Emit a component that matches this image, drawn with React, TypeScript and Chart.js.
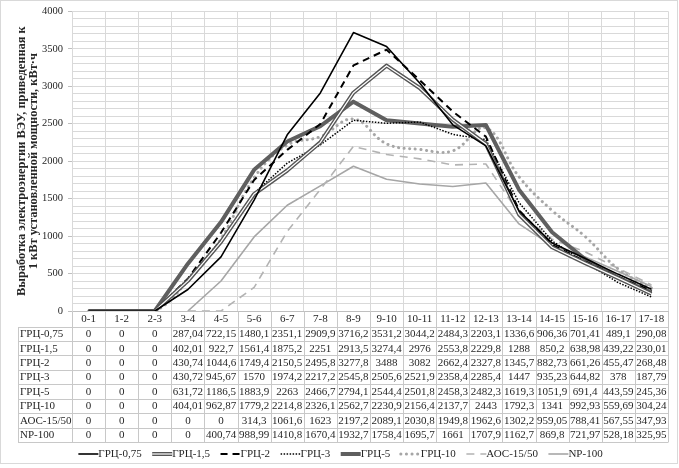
import React, { useEffect, useRef } from "react";
import { Chart, registerables } from "chart.js";

Chart.register(...registerables);

const categories = ["0-1", "1-2", "2-3", "3-4", "4-5", "5-6", "6-7", "7-8", "8-9", "9-10", "10-11", "11-12", "12-13", "13-14", "14-15", "15-16", "16-17", "17-18"];

const grc075 = [0, 0, 0, 287.04, 722.15, 1480.1, 2351.1, 2909.9, 3716.2, 3531.2, 3044.2, 2484.3, 2203.1, 1336.6, 906.36, 701.41, 489.1, 290.08];
const grc15 = [0, 0, 0, 402.01, 922.7, 1561.4, 1875.2, 2251, 2913.5, 3274.4, 2976, 2553.8, 2229.8, 1288, 850.2, 638.98, 439.22, 230.01];
const grc2 = [0, 0, 0, 430.74, 1044.6, 1749.4, 2150.5, 2495.8, 3277.8, 3488, 3082, 2662.4, 2327.8, 1345.7, 882.73, 661.26, 455.47, 268.48];
const grc3 = [0, 0, 0, 430.72, 945.67, 1570, 1974.2, 2217.2, 2545.8, 2505.6, 2521.9, 2358.4, 2285.4, 1447, 935.23, 644.82, 378, 187.79];
const grc5 = [0, 0, 0, 631.72, 1186.5, 1883.9, 2263, 2466.7, 2794.1, 2544.4, 2501.8, 2458.3, 2482.3, 1619.3, 1051.9, 691.4, 443.59, 245.36];
const grc10 = [0, 0, 0, 404.01, 962.87, 1779.2, 2214.8, 2326.1, 2562.7, 2230.9, 2156.4, 2137.7, 2443, 1792.3, 1341, 992.93, 559.69, 304.24];
const aoc1550 = [0, 0, 0, 0, 0, 314.3, 1061.6, 1623, 2197.2, 2089.1, 2030.8, 1949.8, 1962.6, 1302.2, 959.05, 788.41, 567.55, 347.93];
const np100 = [0, 0, 0, 0, 400.74, 988.99, 1410.8, 1670.4, 1932.7, 1758.4, 1695.7, 1661, 1707.9, 1162.7, 869.8, 721.97, 528.18, 325.95];

const seriesNames = ["ГРЦ-0,75", "ГРЦ-1,5", "ГРЦ-2", "ГРЦ-3", "ГРЦ-5", "ГРЦ-10", "АОС-15/50", "NP-100"];
const seriesValues = [grc075, grc15, grc2, grc3, grc5, grc10, aoc1550, np100];
// first category index from which each line is drawn
const plotStart = [0, 0, 0, 0, 0, 0, 3, 3];

const yTitle = ["Выработка электроэнергии ВЭУ, приведенная к", "1 кВт установленной мощности, кВт·ч"];

const FONT = "'Liberation Serif', 'Times New Roman', serif";

type Style = { color: string; width: number; dash: number[]; cap: CanvasLineCap; tension: number; inner?: string };
const styles: Style[] = [
  { color: "#000000", width: 1.6, dash: [], cap: "butt", tension: 0 },
  { color: "#555555", width: 4, dash: [], cap: "butt", tension: 0, inner: "#ffffff" },
  { color: "#000000", width: 2, dash: [7, 5], cap: "butt", tension: 0 },
  { color: "#000000", width: 1.5, dash: [1.5, 1.5], cap: "butt", tension: 0 },
  { color: "#5f5f5f", width: 4, dash: [], cap: "butt", tension: 0 },
  { color: "#a6a6a6", width: 3, dash: [0.1, 5.5], cap: "round", tension: 0.4 },
  { color: "#b3b3b3", width: 1.6, dash: [8, 6], cap: "butt", tension: 0 },
  { color: "#a6a6a6", width: 1.6, dash: [], cap: "butt", tension: 0 },
];

const fmt = (v: number) => String(v).replace(".", ",");

const tablePlugin = {
  id: "tableAndLegend",
  afterDatasetDraw(chart: any, args: any) {
    const st = styles[args.index];
    if (!st || !st.inner) return;
    const pts = args.meta.data;
    const ctx = chart.ctx;
    ctx.save();
    ctx.strokeStyle = st.inner;
    ctx.lineWidth = 1.2;
    ctx.setLineDash([]);
    ctx.beginPath();
    let started = false;
    pts.forEach((p: any) => {
      if (p.skip) return;
      if (!started) { ctx.moveTo(p.x, p.y); started = true; } else ctx.lineTo(p.x, p.y);
    });
    ctx.stroke();
    ctx.restore();
  },
  afterDraw(chart: any) {
    const ctx: CanvasRenderingContext2D = chart.ctx;
    const xs = chart.scales.x;
    const n = categories.length;
    const left = xs.left;
    const right = xs.right;
    const w = (right - left) / n;
    const axisY = chart.chartArea.bottom;
    const headerBottom = 326.5;
    const rowH = 14.45;
    const tableLeft = 18;
    const tableBottom = headerBottom + rowH * seriesNames.length;
    const px = (v: number) => Math.round(v) + 0.5;

    ctx.save();
    ctx.strokeStyle = "#c8c8c8";
    ctx.lineWidth = 1;
    ctx.setLineDash([]);
    ctx.beginPath();
    for (let r = 0; r <= seriesNames.length; r++) {
      const y = px(headerBottom + r * rowH);
      ctx.moveTo(tableLeft, y);
      ctx.lineTo(right, y);
    }
    ctx.moveTo(px(tableLeft), px(headerBottom));
    ctx.lineTo(px(tableLeft), px(tableBottom));
    for (let i = 0; i <= n; i++) {
      const x = px(left + i * w);
      ctx.moveTo(x, px(axisY));
      ctx.lineTo(x, px(tableBottom));
    }
    ctx.stroke();

    ctx.fillStyle = "#262626";
    ctx.font = `11px ${FONT}`;
    ctx.textBaseline = "middle";
    seriesNames.forEach((name, r) => {
      const cy = headerBottom + r * rowH + rowH / 2 + 0.5;
      ctx.textAlign = "left";
      ctx.fillText(name, tableLeft + 2, cy);
      ctx.textAlign = "center";
      seriesValues[r].forEach((v, i) => {
        ctx.fillText(fmt(v), xs.getPixelForValue(i), cy);
      });
    });

    // legend
    const sampleW = 20;
    const gap = 0;
    const spacing = 10.5;
    const widths = seriesNames.map((s) => ctx.measureText(s).width);
    const total = widths.reduce((a, b) => a + b + sampleW + gap, 0) + spacing * (seriesNames.length - 1);
    let lx = 340.5 - total / 2;
    const ly = 454;
    seriesNames.forEach((name, i) => {
      const st = styles[i];
      ctx.beginPath();
      ctx.strokeStyle = st.color;
      ctx.lineWidth = st.width;
      ctx.lineCap = st.cap;
      ctx.setLineDash(st.dash);
      ctx.moveTo(lx, ly);
      ctx.lineTo(lx + sampleW, ly);
      ctx.stroke();
      if (st.inner) {
        ctx.beginPath();
        ctx.strokeStyle = st.inner;
        ctx.lineWidth = 1.2;
        ctx.setLineDash([]);
        ctx.moveTo(lx, ly);
        ctx.lineTo(lx + sampleW, ly);
        ctx.stroke();
      }
      ctx.setLineDash([]);
      ctx.lineCap = "butt";
      ctx.textAlign = "left";
      ctx.fillStyle = "#262626";
      ctx.fillText(name, lx + sampleW + gap, ly + 0.5);
      lx += sampleW + gap + widths[i] + spacing;
    });

    // outer frame
    ctx.strokeStyle = "#d9d9d9";
    ctx.lineWidth = 1;
    ctx.strokeRect(0.5, 0.5, 677, 463);
    ctx.restore();
  },
};

export default function App() {
  const ref = useRef<HTMLCanvasElement | null>(null);
  useEffect(() => {
    document.body.style.margin = "0";
    const canvas = ref.current;
    if (!canvas) return;
    const chart = new Chart(canvas, {
      type: "line",
      data: {
        labels: categories,
        datasets: seriesValues.map((vals, i) => ({
          label: seriesNames[i],
          data: vals.map((v, j) => (j < plotStart[i] ? null : v)),
          borderColor: styles[i].color,
          backgroundColor: styles[i].color,
          borderWidth: styles[i].width,
          borderDash: styles[i].dash,
          borderCapStyle: styles[i].cap,
          borderJoinStyle: "round",
          tension: styles[i].tension,
          pointRadius: 0,
          pointHoverRadius: 0,
          fill: false,
          spanGaps: false,
        })),
      },
      options: {
        responsive: false,
        animation: false,
        devicePixelRatio: 1,
        layout: { padding: { top: 11, right: 11, left: 0, bottom: 0 } },
        plugins: {
          legend: { display: false },
          tooltip: { enabled: false },
          title: { display: false },
        },
        scales: {
          x: {
            type: "category",
            offset: true,
            grid: { display: true, offset: true, color: "#d9d9d9", drawTicks: false },
            border: { display: true, color: "#bfbfbf" },
            ticks: {
              autoSkip: false,
              maxRotation: 0,
              minRotation: 0,
              padding: 2,
              color: "#262626",
              font: { family: FONT, size: 11 },
            },
            afterFit: (s: any) => { s.height = 157; },
          },
          y: {
            min: 0,
            max: 4000,
            grid: {
              color: "#d9d9d9",
              drawTicks: true,
              tickLength: 4,
              tickColor: (c: any) => (c.tick && c.tick.value % 500 === 0 ? "#bfbfbf" : "rgba(0,0,0,0)"),
            },
            border: { display: true, color: "#d9d9d9" },
            ticks: {
              stepSize: 100,
              autoSkip: false,
              padding: 5,
              color: "#262626",
              font: { family: FONT, size: 10.5 },
              callback: (v: any) => (Number(v) % 500 === 0 ? String(v) : ""),
            },
            title: {
              display: true,
              text: yTitle,
              color: "#262626",
              font: { family: FONT, size: 12.4, weight: "bold", lineHeight: 0.93 },
              padding: { top: 16, bottom: 0 },
            },
            afterFit: (s: any) => { s.width = 72; },
          },
        },
      },
      plugins: [tablePlugin],
    });
    return () => chart.destroy();
  }, []);
  return (
    <div style={{ width: 679, height: 468, background: "#ffffff" }}>
      <canvas ref={ref} width={679} height={468} style={{ display: "block" }} />
    </div>
  );
}
